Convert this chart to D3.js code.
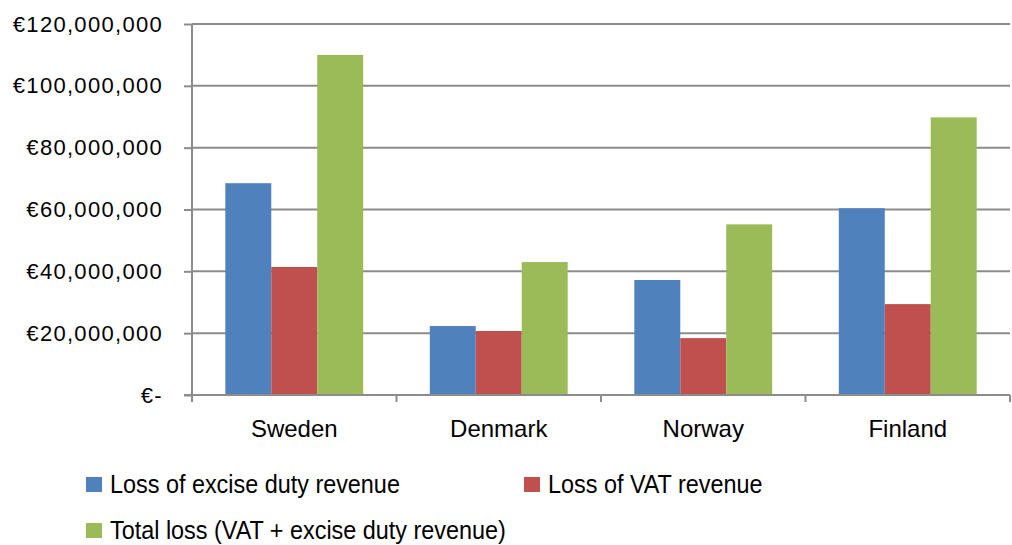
<!DOCTYPE html>
<html>
<head>
<meta charset="utf-8">
<script src="https://cdn.jsdelivr.net/npm/d3@7"></script>
<style>
  body { margin: 0; background: #fff; }
  text { font-family: "Liberation Sans", Arial, sans-serif; fill: #000; }
</style>
</head>
<body>
<div id="chart"></div>
<script>
// data
var countries = ["Sweden", "Denmark", "Norway", "Finland"];
var seriesNames = ["Loss of excise duty revenue", "Loss of VAT revenue", "Total loss (VAT + excise duty revenue)"];
var exciseLoss = [68500000, 22300000, 37200000, 60400000];
var vatLoss = [41400000, 20700000, 18400000, 29400000];
var totalLoss = [110000000, 43000000, 55200000, 89800000];
var yTicks = [0, 20000000, 40000000, 60000000, 80000000, 100000000, 120000000];
var colors = ["#4F81BD", "#C0504D", "#9BBB59"];

var svgWidth = 1012;
var svgHeight = 545;

var margin = { top: 24, right: 2, bottom: 150, left: 192 };
var width = svgWidth - margin.left - margin.right;
var height = svgHeight - margin.top - margin.bottom;

var svg = d3.select("#chart")
  .append("svg")
  .attr("width", svgWidth)
  .attr("height", svgHeight);

var chartGroup = svg.append("g")
  .attr("transform", `translate(${margin.left}, ${margin.top})`);

var rows = countries.map(function(c, i) {
  return { country: c, values: [exciseLoss[i], vatLoss[i], totalLoss[i]] };
});

// scales
var x0 = d3.scaleBand()
  .domain(countries)
  .range([0, width])
  .paddingInner(0)
  .paddingOuter(0);

var x1 = d3.scaleBand()
  .domain([0, 1, 2])
  .range([0, x0.bandwidth()])
  .paddingOuter(0.725)
  .paddingInner(0);

var y = d3.scaleLinear()
  .domain([0, 120000000])
  .range([height, 0]);

// gridlines
chartGroup.append("g")
  .selectAll("line")
  .data(yTicks.slice(1))
  .enter()
  .append("line")
  .attr("x1", 0)
  .attr("x2", width)
  .attr("y1", d => y(d))
  .attr("y2", d => y(d))
  .attr("stroke", "#8c8c8c")
  .attr("stroke-width", 2);

// bars
var groups = chartGroup.selectAll(".grp")
  .data(rows)
  .enter()
  .append("g")
  .attr("transform", d => `translate(${x0(d.country)}, 0)`);

groups.selectAll("rect")
  .data(d => d.values)
  .enter()
  .append("rect")
  .attr("x", (d, i) => x1(i))
  .attr("width", x1.bandwidth())
  .attr("y", d => y(d))
  .attr("height", d => height - y(d))
  .attr("fill", (d, i) => colors[i]);

// y axis
var fmt = function(d) {
  return d === 0 ? "€-" : "€" + d3.format(",")(d);
};
var leftAxis = d3.axisLeft(y).tickValues(yTicks).tickFormat(fmt).tickSize(8).tickPadding(21);
var yAxis = chartGroup.append("g").call(leftAxis);
yAxis.select(".domain").attr("stroke", "#8c8c8c").attr("stroke-width", 2).attr("d", `M0,${y(120000000)}V${height + 6}`);
yAxis.selectAll(".tick line").attr("stroke", "#8c8c8c").attr("stroke-width", 2);
yAxis.selectAll(".tick text")
  .style("font-size", "22px")
  .style("letter-spacing", "1.3px")
  .attr("fill", "#000");

// x axis
var bottomAxis = d3.axisBottom(x0).tickSize(0).tickPadding(25);
var xAxis = chartGroup.append("g")
  .attr("transform", `translate(0, ${height})`)
  .call(bottomAxis);
xAxis.select(".domain").attr("stroke", "#8c8c8c").attr("stroke-width", 2).attr("d", `M-8,0H${width}`);
xAxis.selectAll(".tick text")
  .style("font-size", "24px")
  .attr("fill", "#000");

// category boundary ticks
chartGroup.append("g")
  .selectAll("line")
  .data(countries.map(c => x0(c)).concat([width]))
  .enter()
  .append("line")
  .attr("x1", d => d)
  .attr("x2", d => d)
  .attr("y1", height)
  .attr("y2", height + 7)
  .attr("stroke", "#8c8c8c")
  .attr("stroke-width", 2);

// legend
var legendPos = [[86, 477], [524, 477], [86, 523]];
var legend = svg.selectAll(".legend")
  .data(seriesNames)
  .enter()
  .append("g")
  .attr("class", "legend")
  .attr("transform", (d, i) => `translate(${legendPos[i][0]}, ${legendPos[i][1]})`);

legend.append("rect")
  .attr("width", 16)
  .attr("height", 15)
  .attr("fill", (d, i) => colors[i]);

// reference legend font is condensed; squeeze Liberation Sans horizontally
legend.append("text")
  .attr("transform", "translate(24, 16) scale(0.9, 1)")
  .style("font-size", "26px")
  .text(d => d);
</script>
</body>
</html>
